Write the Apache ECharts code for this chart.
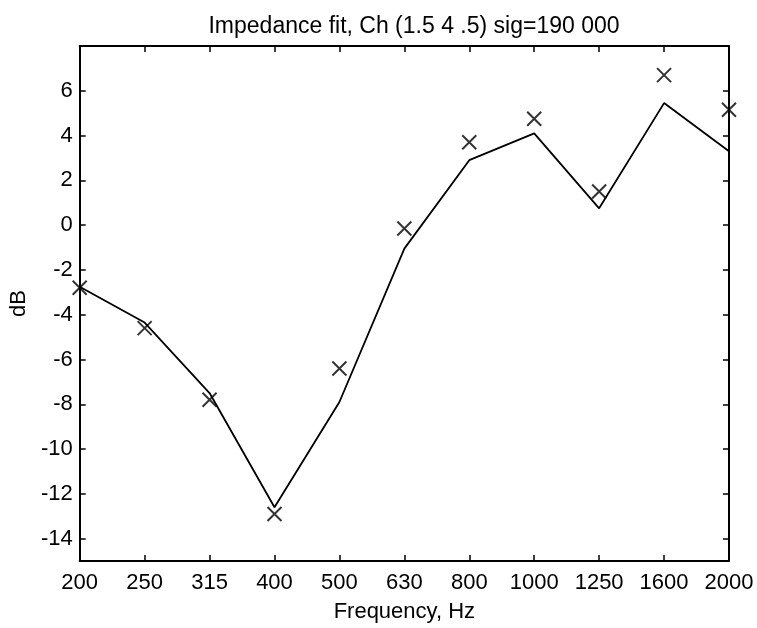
<!DOCTYPE html>
<html>
<head>
<meta charset="utf-8">
<script src="https://cdn.jsdelivr.net/npm/echarts@6/dist/echarts.min.js"></script>
<style>
  html, body { margin: 0; padding: 0; background: #fff; }
  #chart { width: 757px; height: 628px; }
</style>
</head>
<body>
<div id="chart"></div>
<script>
// frequency bands, Hz
var freqs = ['200', '250', '315', '400', '500', '630', '800', '1000', '1250', '1600', '2000']
// measured values (crosses), dB
var measured = [-2.8, -4.6, -7.8, -12.9, -6.4, -0.15, 3.7, 4.75, 1.5, 6.7, 5.15]
// fitted impedance model (line), dB
var fitted = [-2.75, -4.35, -7.5, -12.6, -7.9, -1.05, 2.9, 4.1, 0.75, 5.45, 3.3]
var yTicks = [-14, -12, -10, -8, -6, -4, -2, 0, 2, 4, 6]

var font = 'Liberation Sans, Arial, sans-serif'
var crossPath = 'path://M0,0L10,10M10,0L0,10'

var chart = echarts.init(document.getElementById('chart'))

var baseX = {
	type: 'category',
	data: freqs,
	boundaryGap: false,
	axisLine: { show: true, onZero: false, lineStyle: { color: '#000', width: 2 } },
	axisTick: { show: true, inside: true, length: 6, alignWithLabel: true, lineStyle: { color: '#000', width: 1.5 } },
	splitLine: { show: false },
}
var baseY = {
	type: 'value',
	min: -15,
	max: 8,
	interval: 1,
	axisLine: { show: true, onZero: false, lineStyle: { color: '#000', width: 2 } },
	axisTick: {
		show: true, inside: true, length: 6,
		lineStyle: { color: '#000', width: 1.5 },
		customValues: yTicks,
	},
	splitLine: { show: false },
}

chart.setOption({
	backgroundColor: '#fff',
	animation: false,
	title: {
		text: 'Impedance fit, Ch (1.5 4 .5) sig=190 000',
		left: 409,
		top: 10,
		textAlign: 'center',
		textStyle: { fontFamily: font, fontSize: 23, fontWeight: 'normal', color: '#000' },
	},
	grid: { left: 77, right: 28, top: 46, bottom: 66 },
	xAxis: [
		Object.assign({}, baseX, {
			position: 'bottom',
			name: 'Frequency, Hz',
			nameLocation: 'middle',
			nameGap: 40,
			nameTextStyle: { fontFamily: font, fontSize: 22, color: '#000' },
			axisLabel: { fontFamily: font, fontSize: 22, color: '#000', margin: 11 },
		}),
		Object.assign({}, baseX, { position: 'top', axisLabel: { show: false } }),
	],
	yAxis: [
		Object.assign({}, baseY, {
			position: 'left',
			name: 'dB',
			nameLocation: 'middle',
			nameGap: 45,
			nameTextStyle: { fontFamily: font, fontSize: 22, color: '#000' },
			axisLabel: {
				fontFamily: font, fontSize: 22, color: '#000', margin: 7,
				customValues: yTicks,
			},
		}),
		Object.assign({}, baseY, { position: 'right', axisLabel: { show: false } }),
	],
	series: [
		{
			name: 'fit',
			type: 'line',
			data: fitted,
			symbol: 'none',
			lineStyle: { color: '#000', width: 1.8 },
			z: 2,
		},
		{
			name: 'measured',
			type: 'scatter',
			data: measured,
			symbol: crossPath,
			symbolSize: 14,
			itemStyle: { color: 'none', borderColor: '#000', borderWidth: 2 },
			z: 3,
		},
	],
})
</script>
</body>
</html>
